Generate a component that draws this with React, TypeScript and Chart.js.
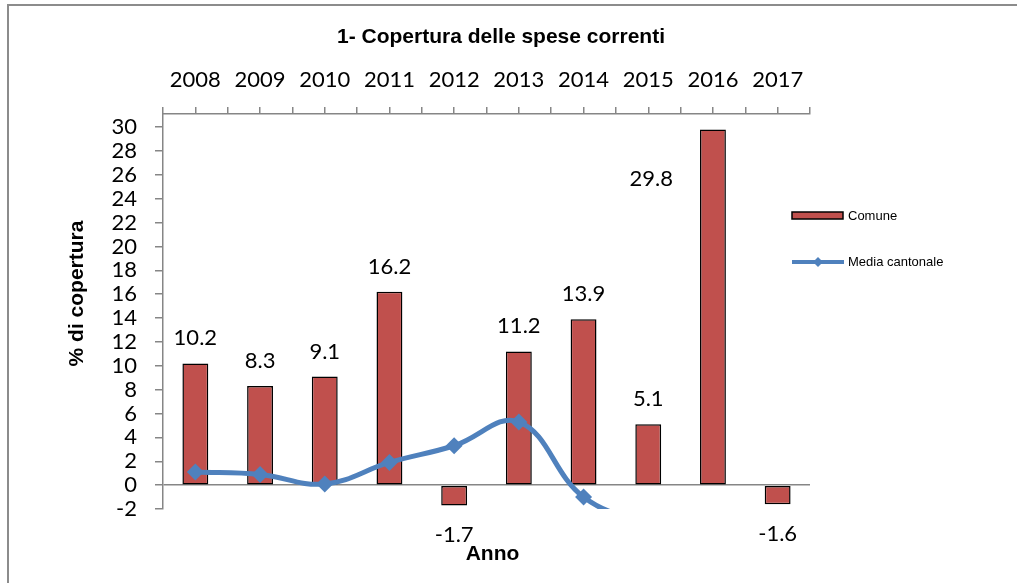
import React, { useEffect, useRef } from 'react';
import { Chart, registerables } from 'chart.js';

Chart.register(...registerables);

// ---- data ----
const years = ['2008', '2009', '2010', '2011', '2012', '2013', '2014', '2015', '2016', '2017'];
const comune = [10.2, 8.3, 9.1, 16.2, -1.7, 11.2, 13.9, 5.1, 29.8, -1.6];
const mediaCantonale = [1.1, 0.9, 0.1, 1.9, 3.3, 5.3, -1.0, -3.0, -3.4, -3.2];
const yMin = -2;
const yMax = 31.1;
const yStep = 2;
const chartTitle = '1- Copertura delle spese correnti';
const yTitle = '% di copertura';
const xTitle = 'Anno';
const seriesNames = ['Comune', 'Media cantonale'];

// ---- style ----
const RED = '#C0504D';
const BLUE = '#4F81BD';
const AXIS = '#868686';
const NUM_FAMILY = 'Lato, "Open Sans", sans-serif';
const NUM_SIZE = 22;
const NUM_FONT = `${NUM_SIZE}px ${NUM_FAMILY}`;
const BOLD_FONT = 'bold 21px "Liberation Sans", Arial, sans-serif';
const LEGEND_FONT = '13px "Liberation Sans", Arial, sans-serif';

// the 2016 data label was moved by hand in the original chart
const MOVED_LABEL = { index: 8, atCategory: 7, atValue: 25.05, dx: 3 };

const decorations = {
  id: 'decorations',
  beforeDraw(chart: any) {
    const ctx = chart.ctx;
    ctx.save();
    ctx.fillStyle = '#ffffff';
    ctx.fillRect(0, 0, chart.width, chart.height);
    ctx.strokeStyle = '#8c8c8c';
    ctx.lineWidth = 2;
    ctx.strokeRect(8, 5, chart.width + 100, chart.height + 100);
    ctx.restore();
  },
  afterDraw(chart: any) {
    const ctx = chart.ctx;
    const xs = chart.scales.x;
    const ys = chart.scales.y;
    const area = chart.chartArea;
    ctx.save();

    // main title
    ctx.fillStyle = '#000';
    ctx.font = BOLD_FONT;
    ctx.textAlign = 'center';
    ctx.textBaseline = 'alphabetic';
    ctx.fillText(chartTitle, 501, 43);

    // axis titles
    ctx.fillText(xTitle, (area.left + area.right) / 2 + 6, 560);
    ctx.save();
    ctx.translate(83, (area.top + area.bottom) / 2 - 18);
    ctx.rotate(-Math.PI / 2);
    ctx.fillText(yTitle, 0, 0);
    ctx.restore();

    // data labels
    ctx.font = NUM_FONT;
    const meta = chart.getDatasetMeta(0);
    meta.data.forEach((el: any, i: number) => {
      const v = comune[i];
      const txt = v.toFixed(1);
      if (i === MOVED_LABEL.index) {
        ctx.fillText(txt, xs.getPixelForValue(MOVED_LABEL.atCategory) + MOVED_LABEL.dx, ys.getPixelForValue(MOVED_LABEL.atValue));
      } else if (v >= 0) {
        ctx.fillText(txt, el.x, el.y - 18);
      } else {
        ctx.fillText(txt, el.x, el.y + 37);
      }
    });

    // legend
    ctx.font = LEGEND_FONT;
    ctx.textAlign = 'left';
    ctx.textBaseline = 'middle';
    ctx.fillStyle = RED;
    ctx.fillRect(792, 212, 51, 7);
    ctx.strokeStyle = '#000';
    ctx.lineWidth = 1.5;
    ctx.strokeRect(792, 212, 51, 7);
    ctx.fillStyle = '#000';
    ctx.fillText(seriesNames[0], 848, 216);

    ctx.strokeStyle = BLUE;
    ctx.lineWidth = 4;
    ctx.beginPath();
    ctx.moveTo(792, 262);
    ctx.lineTo(844, 262);
    ctx.stroke();
    ctx.fillStyle = BLUE;
    ctx.beginPath();
    ctx.moveTo(818 - 5, 262);
    ctx.lineTo(818, 257);
    ctx.lineTo(818 + 5, 262);
    ctx.lineTo(818, 267);
    ctx.closePath();
    ctx.fill();
    ctx.fillStyle = '#000';
    ctx.fillText(seriesNames[1], 848, 262);

    ctx.restore();
  },
};

export default function App() {
  const ref = useRef<HTMLCanvasElement | null>(null);

  useEffect(() => {
    if (!ref.current) return;
    const chart = new Chart(ref.current, {
      type: 'bar',
      data: {
        labels: years,
        datasets: [
          {
            type: 'bar',
            label: seriesNames[0],
            data: comune,
            backgroundColor: RED,
            borderColor: '#000',
            borderWidth: 1.5,
            borderSkipped: false,
            categoryPercentage: 0.4,
            barPercentage: 1,
            xAxisID: 'x',
            yAxisID: 'y',
            order: 1,
          } as any,
          {
            type: 'line',
            label: seriesNames[1],
            data: mediaCantonale,
            borderColor: BLUE,
            borderWidth: 5,
            backgroundColor: BLUE,
            pointStyle: 'rectRot',
            pointRadius: 8.5,
            pointBorderWidth: 0,
            pointBackgroundColor: BLUE,
            tension: 0.4,
            fill: false,
            clip: 0,
            xAxisID: 'x',
            yAxisID: 'y',
            order: 0,
          } as any,
        ],
      },
      options: {
        responsive: false,
        animation: false,
        layout: { padding: { top: 0, left: 0, right: 207, bottom: 74 } },
        plugins: {
          legend: { display: false },
          title: { display: false },
          tooltip: { enabled: false },
        },
        scales: {
          x: {
            type: 'category',
            display: false,
            offset: true,
          },
          x2: {
            type: 'linear',
            position: 'top',
            min: -0.5,
            max: 9.5,
            offset: false,
            afterFit: (s: any) => {
              s.height = 114;
            },
            border: { display: true, color: AXIS, width: 1.5 },
            grid: { offset: false, drawOnChartArea: false, drawTicks: true, tickLength: 7, color: AXIS, lineWidth: 1.5 },
            ticks: {
              stepSize: 0.5,
              autoSkip: false,
              maxRotation: 0,
              minRotation: 0,
              padding: 14,
              color: '#000',
              font: { family: NUM_FAMILY, size: NUM_SIZE },
              callback: (v: any) => (Number.isInteger(v) ? years[v] : ''),
            },
          } as any,
          y: {
            type: 'linear',
            position: 'left',
            min: yMin,
            max: yMax,
            z: 1,
            afterFit: (s: any) => {
              s.width = 163;
            },
            border: { display: true, color: AXIS, width: 1.5 },
            grid: {
              drawOnChartArea: true,
              drawTicks: true,
              tickLength: 8,
              lineWidth: 1.5,
              tickColor: AXIS,
              color: (c: any) => (c.tick && c.tick.value === 0 ? AXIS : 'rgba(0,0,0,0)'),
            },
            ticks: {
              stepSize: yStep,
              includeBounds: false,
              autoSkip: false,
              padding: 18,
              color: '#000',
              font: { family: NUM_FAMILY, size: NUM_SIZE },
            },
          } as any,
        },
      },
      plugins: [decorations],
    });
    return () => chart.destroy();
  }, []);

  return (
    <div style={{ position: 'fixed', left: 0, top: 0, width: 1017, height: 583, background: '#fff' }}>
      <canvas ref={ref} width={1017} height={583} style={{ display: 'block', width: 1017, height: 583 }} />
    </div>
  );
}
